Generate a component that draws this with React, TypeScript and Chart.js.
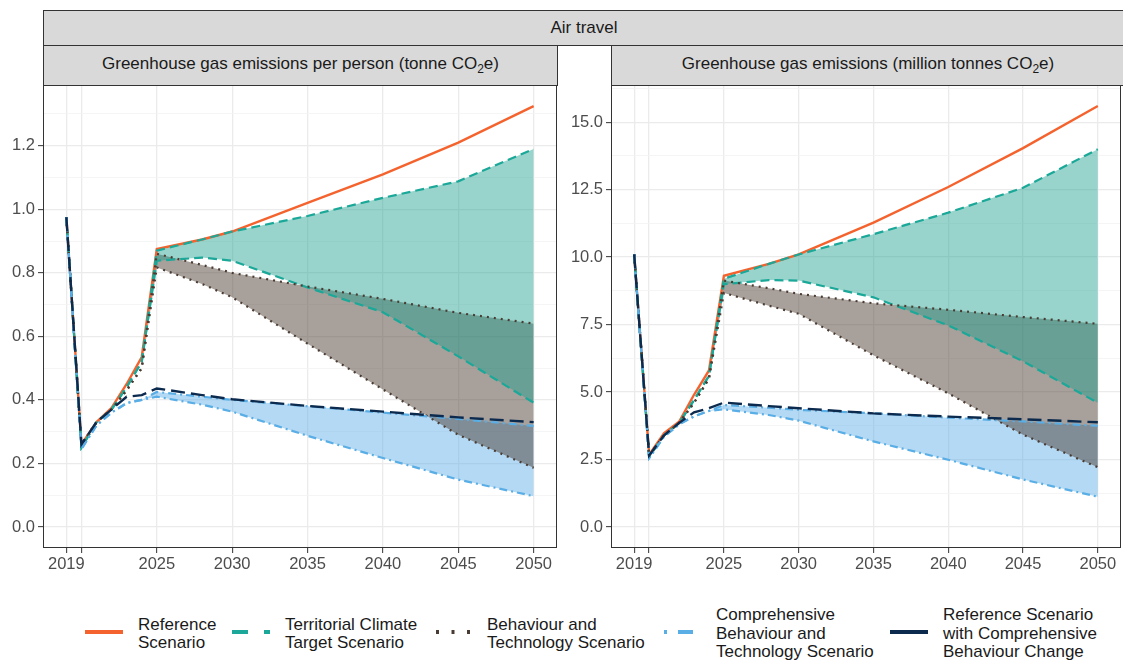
import React, { useEffect, useRef } from "react";
import { Chart, registerables } from "chart.js";

Chart.register(...registerables);

const FONT = '"Liberation Sans", Arial, Helvetica, sans-serif';

// years
const years = [2019, 2020, 2021, 2022, 2023, 2024, 2025, 2028, 2030, 2035, 2040, 2045, 2050];

const xTicks = [2019, 2020, 2025, 2030, 2035, 2040, 2045, 2050];
const xTickLabels = ["2019", "", "2025", "2030", "2035", "2040", "2045", "2050"];

// per person (tonne CO2e)
const ppReference = [0.975, 0.26, 0.33, 0.375, 0.45, 0.535, 0.875, 0.905, 0.93, 1.02, 1.11, 1.21, 1.325];
const ppTerritorialHigh = [0.975, 0.25, 0.33, 0.37, 0.44, 0.52, 0.87, 0.905, 0.93, 0.979, 1.036, 1.088, 1.19];
const ppTerritorialLow = [0.975, 0.25, 0.33, 0.37, 0.44, 0.52, 0.838, 0.848, 0.838, 0.754, 0.676, 0.537, 0.391];
const ppBehaviourHigh = [0.975, 0.26, 0.33, 0.37, 0.43, 0.5, 0.86, 0.825, 0.8, 0.757, 0.718, 0.674, 0.64];
const ppBehaviourLow = [0.975, 0.26, 0.33, 0.37, 0.43, 0.5, 0.817, 0.765, 0.723, 0.577, 0.433, 0.29, 0.186];
const ppComprehensiveHigh = [0.975, 0.245, 0.32, 0.36, 0.39, 0.4, 0.425, 0.41, 0.4, 0.38, 0.36, 0.34, 0.318];
const ppComprehensiveLow = [0.975, 0.245, 0.32, 0.36, 0.39, 0.4, 0.41, 0.385, 0.363, 0.287, 0.217, 0.149, 0.097];
const ppRefBehaviour = [0.975, 0.26, 0.33, 0.37, 0.41, 0.415, 0.436, 0.415, 0.402, 0.381, 0.363, 0.345, 0.33];

// total (million tonnes CO2e)
const totReference = [10.1, 2.68, 3.48, 3.9, 4.9, 5.8, 9.31, 9.75, 10.1, 11.28, 12.6, 14.04, 15.6];
const totTerritorialHigh = [10.1, 2.6, 3.4, 3.85, 4.7, 5.6, 9.2, 9.75, 10.1, 10.85, 11.65, 12.57, 14.0];
const totTerritorialLow = [10.1, 2.6, 3.4, 3.85, 4.7, 5.6, 9.0, 9.15, 9.13, 8.51, 7.47, 6.14, 4.6];
const totBehaviourHigh = [10.1, 2.65, 3.4, 3.85, 4.6, 5.5, 9.13, 8.85, 8.64, 8.29, 8.05, 7.78, 7.53];
const totBehaviourLow = [10.1, 2.65, 3.4, 3.85, 4.6, 5.5, 8.67, 8.2, 7.9, 6.36, 4.95, 3.42, 2.21];
const totComprehensiveHigh = [10.1, 2.55, 3.35, 3.8, 4.1, 4.3, 4.52, 4.42, 4.34, 4.21, 4.05, 3.91, 3.75];
const totComprehensiveLow = [10.1, 2.55, 3.35, 3.8, 4.1, 4.3, 4.36, 4.15, 3.94, 3.17, 2.49, 1.76, 1.12];
const totRefBehaviour = [10.1, 2.65, 3.4, 3.85, 4.25, 4.4, 4.61, 4.48, 4.4, 4.21, 4.09, 3.99, 3.88];

const ppYTicks = [0, 0.1, 0.2, 0.3, 0.4, 0.5, 0.6, 0.7, 0.8, 0.9, 1.0, 1.1, 1.2, 1.3];
const ppYLabels = ["0.0", "", "0.2", "", "0.4", "", "0.6", "", "0.8", "", "1.0", "", "1.2", ""];
const totYTicks = [0, 1.25, 2.5, 3.75, 5, 6.25, 7.5, 8.75, 10, 11.25, 12.5, 13.75, 15, 16.25];
const totYLabels = ["0.0", "", "2.5", "", "5.0", "", "7.5", "", "10.0", "", "12.5", "", "15.0", ""];

const ORANGE = "#f4632e";
const TEAL = "#1ba898";
const BROWN = "#4b3c33";
const LIGHTBLUE = "#5aaee6";
const NAVY = "#0c2a4d";
const TEAL_FILL = "rgba(27,160,142,0.45)";
const GREY_FILL = "rgba(80,65,55,0.5)";
const BLUE_FILL = "rgba(86,170,230,0.45)";

const toXY = (arr: number[]) => years.map((y, i) => ({ x: y, y: arr[i] }));

const line = (data: number[], color: string, dash: number[], width = 2) => ({
  data: toXY(data),
  borderColor: color,
  borderWidth: width,
  borderDash: dash,
  borderCapStyle: "butt",
  pointRadius: 0,
  fill: false,
});

const ribbonTop = (data: number[]) => ({
  data: toXY(data),
  borderWidth: 0,
  borderColor: "transparent",
  pointRadius: 0,
  fill: false,
});

const ribbonBottom = (data: number[], color: string) => ({
  data: toXY(data),
  borderWidth: 0,
  borderColor: "transparent",
  backgroundColor: color,
  pointRadius: 0,
  fill: "-1",
});

const panelBorder = {
  id: "panelBorder",
  afterDraw(chart: any) {
    const { ctx, chartArea: a } = chart;
    ctx.save();
    ctx.strokeStyle = "#333333";
    ctx.lineWidth = 1;
    ctx.strokeRect(a.left + 0.5, a.top + 0.5, a.right - a.left - 1, a.bottom - a.top - 1);
    ctx.restore();
  },
};

interface PanelProps {
  left: number;
  width: number;
  axisWidth: number;
  padRight: number;
  yTicks: number[];
  yLabels: string[];
  yMax: number;
  reference: number[];
  terrHigh: number[];
  terrLow: number[];
  behHigh: number[];
  behLow: number[];
  compHigh: number[];
  compLow: number[];
  refBeh: number[];
}

const Panel = (p: PanelProps) => {
  const chartRef = useRef<HTMLCanvasElement | null>(null);

  useEffect(() => {
    if (!chartRef.current) return;
    const pad = p.yMax * 0.05;
    const isMajor = (v: number) => p.yLabels[p.yTicks.indexOf(v)] !== "";

    const chart = new Chart(chartRef.current, {
      type: "line",
      data: {
        datasets: [
          line(p.refBeh, NAVY, [14, 6], 2.4),
          line(p.compHigh, LIGHTBLUE, [8, 4, 2, 4], 2.2),
          line(p.compLow, LIGHTBLUE, [8, 4, 2, 4], 2.2),
          line(p.behHigh, BROWN, [2, 5], 2.2),
          line(p.behLow, BROWN, [2, 5], 2.2),
          line(p.terrHigh, TEAL, [9, 5], 2.2),
          line(p.terrLow, TEAL, [9, 5], 2.2),
          line(p.reference, ORANGE, [], 2.4),
          ribbonTop(p.terrHigh),
          ribbonBottom(p.terrLow, TEAL_FILL),
          ribbonTop(p.behHigh),
          ribbonBottom(p.behLow, GREY_FILL),
          ribbonTop(p.compHigh),
          ribbonBottom(p.compLow, BLUE_FILL),
        ] as any,
      },
      options: {
        animation: false,
        responsive: true,
        maintainAspectRatio: false,
        layout: { padding: { top: 20, right: p.padRight, left: 0, bottom: 0 } },
        plugins: { legend: { display: false }, tooltip: { enabled: false } },
        elements: { line: { tension: 0 } },
        scales: {
          x: {
            type: "linear",
            min: 2017.45,
            max: 2051.55,
            afterBuildTicks: (axis: any) => {
              axis.ticks = xTicks.map((v) => ({ value: v }));
            },
            afterFit: (axis: any) => {
              axis.height = 32;
            },
            ticks: {
              autoSkip: false,
              maxRotation: 0,
              padding: 2,
              color: "#4d4d4d",
              font: { size: 16.5, family: FONT },
              callback: (v: any) => xTickLabels[xTicks.indexOf(Number(v))] ?? "",
            },
            grid: { color: "#ebebeb", lineWidth: 1.3, tickLength: 5, tickColor: "#333333", tickWidth: 1 },
            border: { display: false },
          },
          y: {
            type: "linear",
            min: -pad,
            max: p.yMax + pad,
            afterBuildTicks: (axis: any) => {
              axis.ticks = p.yTicks.map((v) => ({ value: v }));
            },
            afterFit: (axis: any) => {
              axis.width = p.axisWidth;
            },
            ticks: {
              autoSkip: false,
              padding: 3,
              color: "#4d4d4d",
              font: { size: 16.5, family: FONT },
              callback: (v: any) => p.yLabels[p.yTicks.indexOf(Number(v))] ?? "",
            },
            grid: {
              color: (c: any) => (c.tick && isMajor(c.tick.value) ? "#ebebeb" : "#f3f3f3"),
              lineWidth: (c: any) => (c.tick && isMajor(c.tick.value) ? 1.3 : 0.8),
              tickLength: 5,
              tickWidth: 1,
              tickColor: (c: any) => (c.tick && isMajor(c.tick.value) ? "#333333" : "transparent"),
            },
            border: { display: false },
          },
        },
      } as any,
      plugins: [panelBorder],
    });

    return () => {
      chart.destroy();
    };
  }, []);

  return (
    <div style={{ position: "absolute", left: p.left, top: 65, width: p.width, height: 515 }}>
      <canvas ref={chartRef}></canvas>
    </div>
  );
};

const stripStyle: React.CSSProperties = {
  position: "absolute",
  boxSizing: "border-box",
  background: "#d9d9d9",
  border: "1px solid #333333",
  color: "#1a1a1a",
  fontSize: 17,
  display: "flex",
  alignItems: "center",
  justifyContent: "center",
  zIndex: 2,
};

const legendItems = [
  { key: ORANGE, dash: "", lines: ["Reference", "Scenario"], keyX: 85, textX: 138 },
  { key: TEAL, dash: "16 16", lines: ["Territorial Climate", "Target Scenario"], keyX: 232, textX: 285 },
  { key: BROWN, dash: "3 12.5", lines: ["Behaviour and", "Technology Scenario"], keyX: 435.5, textX: 487 },
  { key: LIGHTBLUE, dash: "3 11 15 11", lines: ["Comprehensive", "Behaviour and", "Technology Scenario"], keyX: 663.5, textX: 716 },
  { key: NAVY, dash: "", lines: ["Reference Scenario", "with Comprehensive", "Behaviour Change"], keyX: 890, textX: 943 },
];

const App = () => {
  return (
    <div
      style={{
        position: "absolute",
        left: 0,
        top: 0,
        width: 1123,
        height: 660,
        overflow: "hidden",
        background: "#ffffff",
        fontFamily: FONT,
      }}
    >
      <div style={{ ...stripStyle, left: 43, top: 10, width: 1082, height: 36 }}>Air travel</div>
      <div style={{ ...stripStyle, left: 43, top: 45, width: 515, height: 41 }}>
        <span>
          Greenhouse gas emissions per person (tonne CO<sub style={{ fontSize: 12 }}>2</sub>e)
        </span>
      </div>
      <div style={{ ...stripStyle, left: 611, top: 45, width: 514, height: 41 }}>
        <span>
          Greenhouse gas emissions (million tonnes CO<sub style={{ fontSize: 12 }}>2</sub>e)
        </span>
      </div>

      <Panel
        left={0}
        width={560}
        axisWidth={43}
        padRight={3}
        yTicks={ppYTicks}
        yLabels={ppYLabels}
        yMax={1.325}
        reference={ppReference}
        terrHigh={ppTerritorialHigh}
        terrLow={ppTerritorialLow}
        behHigh={ppBehaviourHigh}
        behLow={ppBehaviourLow}
        compHigh={ppComprehensiveHigh}
        compLow={ppComprehensiveLow}
        refBeh={ppRefBehaviour}
      />
      <Panel
        left={565}
        width={558}
        axisWidth={46}
        padRight={2}
        yTicks={totYTicks}
        yLabels={totYLabels}
        yMax={15.6}
        reference={totReference}
        terrHigh={totTerritorialHigh}
        terrLow={totTerritorialLow}
        behHigh={totBehaviourHigh}
        behLow={totBehaviourLow}
        compHigh={totComprehensiveHigh}
        compLow={totComprehensiveLow}
        refBeh={totRefBehaviour}
      />

      {legendItems.map((it, i) => (
        <React.Fragment key={i}>
          <svg style={{ position: "absolute", left: it.keyX, top: 626 }} width={40} height={12}>
            <line
              x1={0}
              y1={6}
              x2={38}
              y2={6}
              stroke={it.key}
              strokeWidth={4}
              strokeDasharray={it.dash || undefined}
            />
          </svg>
          <div
            style={{
              position: "absolute",
              left: it.textX,
              top: 601,
              height: 66,
              display: "flex",
              flexDirection: "column",
              justifyContent: "center",
              fontSize: 17,
              lineHeight: "18.5px",
              color: "#1a1a1a",
              whiteSpace: "nowrap",
            }}
          >
            {it.lines.map((l, j) => (
              <div key={j}>{l}</div>
            ))}
          </div>
        </React.Fragment>
      ))}
    </div>
  );
};

export default App;
